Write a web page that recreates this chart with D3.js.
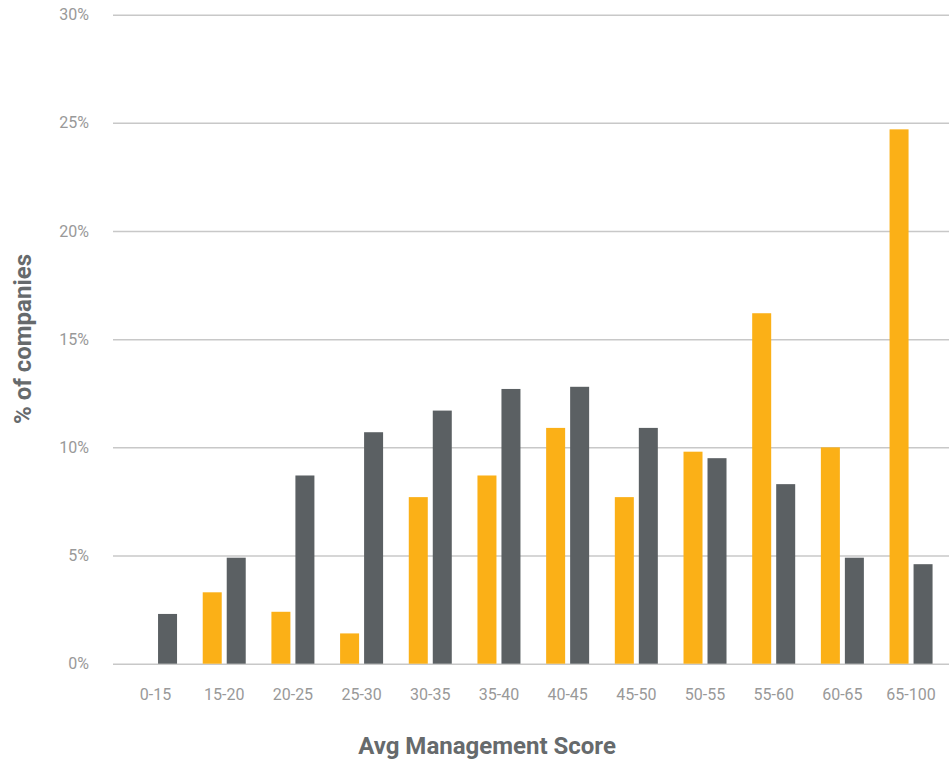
<!DOCTYPE html>
<html>
<head>
<meta charset="utf-8">
<script src="https://cdn.jsdelivr.net/npm/d3@7"></script>
<style>
  body { margin: 0; background: #fff; }
  text { font-family: Roboto, "Open Sans", sans-serif; }
</style>
</head>
<body>
<div id="chart"></div>
<script>
// Data
var categories = ['0-15', '15-20', '20-25', '25-30', '30-35', '35-40', '40-45', '45-50', '50-55', '55-60', '60-65', '65-100'];
var seriesNames = ['orange', 'gray'];
var orangeValues = [0, 3.3, 2.4, 1.4, 7.7, 8.7, 10.9, 7.7, 9.8, 16.2, 10.0, 24.7];
var grayValues = [2.3, 4.9, 8.7, 10.7, 11.7, 12.7, 12.8, 10.9, 9.5, 8.3, 4.9, 4.6];
var yTicks = [0, 5, 10, 15, 20, 25, 30];

var colors = { orange: '#fbb017', gray: '#5b6063' };

var svgWidth = 949;
var svgHeight = 760;

var svg = d3.select('#chart')
  .append('svg')
  .attr('width', svgWidth)
  .attr('height', svgHeight);

// Scales
var y = d3.scaleLinear().domain([0, 30]).range([663.7, 14.7]);

var x0 = d3.scaleBand()
  .domain(categories)
  .range([121.2, 945.4]);

var groupWidth = 43;
var x1 = d3.scaleBand()
  .domain(seriesNames)
  .range([(x0.bandwidth() - groupWidth) / 2, (x0.bandwidth() + groupWidth) / 2])
  .paddingInner(0.2083);

// Gridlines + y labels
var yAxis = d3.axisLeft(y)
  .tickValues(yTicks)
  .tickSize(-(svgWidth - 113))
  .tickPadding(24)
  .tickFormat(function(d) { return d + '%'; });

svg.append('g')
  .attr('transform', 'translate(113,0)')
  .call(yAxis)
  .call(function(g) {
    g.select('.domain').remove();
    g.selectAll('.tick line').attr('stroke', '#c8c8c8').attr('stroke-width', 1.5);
    g.selectAll('.tick text')
      .attr('fill', '#999')
      .attr('font-size', '16px');
  });

// Bars
var table = categories.map(function(c, i) {
  return { cat: c, values: [
    { key: 'orange', value: orangeValues[i] },
    { key: 'gray', value: grayValues[i] }
  ] };
});

var groups = svg.append('g')
  .selectAll('g')
  .data(table)
  .enter()
  .append('g')
  .attr('transform', function(d) { return 'translate(' + x0(d.cat) + ',0)'; });

groups.selectAll('rect')
  .data(function(d) { return d.values; })
  .enter()
  .append('rect')
  .attr('x', function(d) { return x1(d.key); })
  .attr('width', x1.bandwidth())
  .attr('y', function(d) { return y(d.value); })
  .attr('height', function(d) { return y(0) - y(d.value); })
  .attr('fill', function(d) { return colors[d.key]; });

// X labels
var xAxis = d3.axisBottom(x0).tickSize(0).tickPadding(0);
svg.append('g')
  .attr('transform', 'translate(0,689)')
  .call(xAxis)
  .call(function(g) {
    g.select('.domain').remove();
    g.selectAll('.tick text')
      .attr('fill', '#999')
      .attr('font-size', '16px');
  });

// Axis titles
svg.append('text')
  .attr('x', 487)
  .attr('y', 754)
  .attr('text-anchor', 'middle')
  .attr('font-size', '24px')
  .attr('font-weight', 'bold')
  .attr('fill', '#666a6c')
  .text('Avg Management Score');

svg.append('text')
  .attr('transform', 'translate(31,339) rotate(-90)')
  .attr('text-anchor', 'middle')
  .attr('font-size', '24px')
  .attr('font-weight', 'bold')
  .attr('fill', '#666a6c')
  .text('% of companies');
</script>
</body>
</html>
